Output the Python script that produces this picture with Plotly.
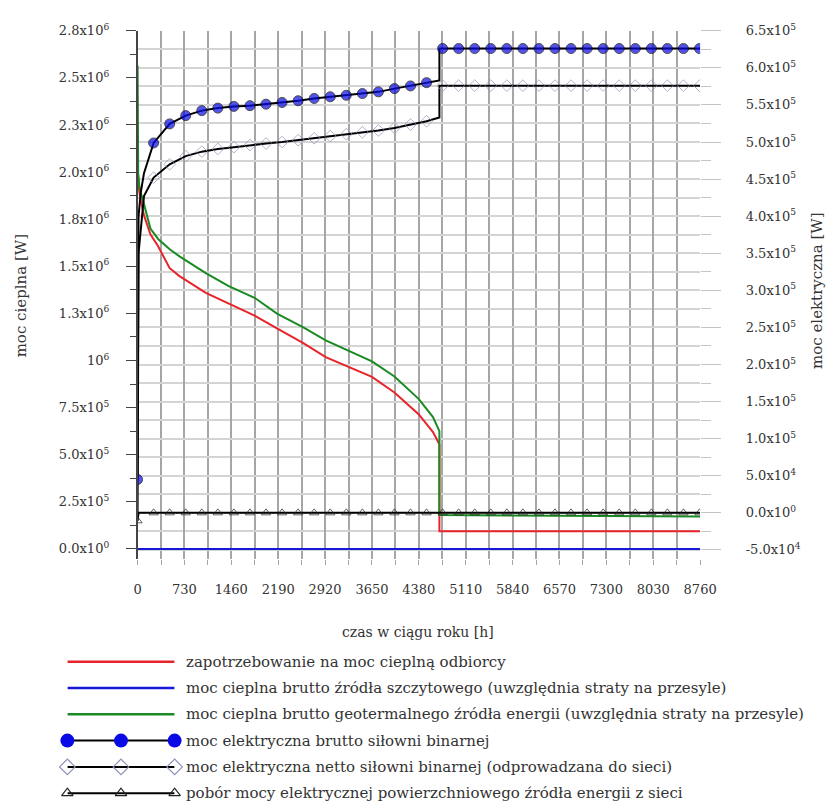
import plotly.graph_objects as go

W, H = 839, 810

# ---------------- data ----------------
# heat power (left axis, W)
heat_t = [0, 10, 25, 50, 100, 200, 320, 500, 653, 1063, 1412, 1822, 2171, 2581, 2930,
          3300, 3650, 4000, 4380, 4600, 4700, 4700, 8760]
heat_demand = [2030000, 1960000, 1900000, 1850000, 1770000, 1670000, 1606000, 1490000,
               1448000, 1359000, 1302000, 1238000, 1170000, 1092000, 1018000, 965000,
               913000, 830000, 714000, 620000, 556000, 94000, 94000]
heat_geo = [2566000, 1990000, 1930000, 1890000, 1830000, 1700000, 1645000, 1590000,
            1553000, 1464000, 1396000, 1333000, 1249000, 1176000, 1107000, 1050000,
            995000, 915000, 795000, 700000, 625000, 180000, 172000]
peak_t = [0, 8760]
heat_peak = [0, 0]

# electric power (right axis, W)
gross_t = [0, 15, 50, 100, 250, 500, 750, 1000, 1250, 1500, 1750, 2000, 2250, 2500, 2750,
           3000, 3250, 3500, 3750, 4000, 4250, 4500, 4700, 4700, 4750, 5000, 5250, 5500,
           5750, 6000, 6250, 6500, 6750, 7000, 7250, 7500, 7750, 8000, 8250, 8500, 8750, 8760]
gross = [45000, 400000, 432000, 458000, 498700, 524400, 535600, 542300, 545700, 548000,
         549000, 551000, 553300, 555600, 558700, 561000, 563000, 565300, 567600, 572000,
         575600, 580000, 583000, 626000, 626000, 626000, 626000, 626000, 626000, 626000,
         626000, 626000, 626000, 626000, 626000, 626000, 626000, 626000, 626000, 626000,
         626000, 626000]

net_t = [0, 15, 100, 250, 500, 750, 1000, 1250, 1500, 1750, 2000, 2250, 2500, 2750, 3000,
         3250, 3500, 3750, 4000, 4250, 4500, 4700, 4700, 4750, 5000, 5250, 5500, 5750, 6000,
         6250, 6500, 6750, 7000, 7250, 7500, 7750, 8000, 8250, 8500, 8750, 8760]
net = [0, 350000, 427000, 452000, 470000, 481000, 487000, 490700, 493000, 496000, 498000,
       500000, 502500, 505000, 508000, 510500, 513000, 515500, 519000, 523500, 528000,
       533000, 576000, 576000, 576000, 576000, 576000, 576000, 576000, 576000, 576000,
       576000, 576000, 576000, 576000, 576000, 576000, 576000, 576000, 576000, 576000]

pobor_t = [0, 15, 250, 500, 750, 1000, 1250, 1500, 1750, 2000, 2250, 2500, 2750, 3000,
           3250, 3500, 3750, 4000, 4250, 4500, 4750, 5000, 5250, 5500, 5750, 6000, 6250,
           6500, 6750, 7000, 7250, 7500, 7750, 8000, 8250, 8500, 8750, 8760]
pobor = [-10700, 0, 0, 0, 0, 0, 0, 0, 0, 0, 0, 0, 0, 0, 0, 0, 0, 0, 0, 0, 0, 0, 0, 0, 0,
         0, 0, 0, 0, 0, 0, 0, 0, 0, 0, 0, 0, 0]

x_ticks = [0, 730, 1460, 2190, 2920, 3650, 4380, 5110, 5840, 6570, 7300, 8030, 8760]
left_ticks = [0, 250000, 500000, 750000, 1000000, 1250000, 1500000, 1750000, 2000000,
              2250000, 2500000, 2750000]
left_labels = ["0.0x10<sup>0</sup>", "2.5x10<sup>5</sup>", "5.0x10<sup>5</sup>",
               "7.5x10<sup>5</sup>", "10<sup>6</sup>", "1.3x10<sup>6</sup>",
               "1.5x10<sup>6</sup>", "1.8x10<sup>6</sup>", "2.0x10<sup>6</sup>",
               "2.3x10<sup>6</sup>", "2.5x10<sup>6</sup>", "2.8x10<sup>6</sup>"]
left_minor = [125000, 375000, 625000, 875000, 1125000, 1375000, 1625000, 1875000,
              2125000, 2375000, 2625000]
right_ticks = [-50000, 0, 50000, 100000, 150000, 200000, 250000, 300000, 350000, 400000,
               450000, 500000, 550000, 600000, 650000]
right_labels = ["-5.0x10<sup>4</sup>", "0.0x10<sup>0</sup>", "5.0x10<sup>4</sup>",
                "1.0x10<sup>5</sup>", "1.5x10<sup>5</sup>", "2.0x10<sup>5</sup>",
                "2.5x10<sup>5</sup>", "3.0x10<sup>5</sup>", "3.5x10<sup>5</sup>",
                "4.0x10<sup>5</sup>", "4.5x10<sup>5</sup>", "5.0x10<sup>5</sup>",
                "5.5x10<sup>5</sup>", "6.0x10<sup>5</sup>", "6.5x10<sup>5</sup>"]

legend_names = [
    "zapotrzebowanie na moc cieplną odbiorcy",
    "moc cieplna brutto źródła szczytowego (uwzględnia straty na przesyle)",
    "moc cieplna brutto geotermalnego źródła energii (uwzględnia straty na przesyle)",
    "moc elektryczna brutto siłowni binarnej",
    "moc elektryczna netto siłowni binarnej (odprowadzana do sieci)",
    "pobór mocy elektrycznej powierzchniowego źródła energii z sieci",
]

RED = "#e8242a"
BLUE = "#1818d8"
GREEN = "#1a8a22"
DOT = "#0a0ae6"
DIAM = "#8c92b8"
FONT = "DejaVu Serif"
TXT = "#333"

fig = go.Figure()

# heat traces (left axis)
fig.add_trace(go.Scatter(x=peak_t, y=heat_peak, mode="lines", line=dict(color=BLUE, width=2),
                         xaxis="x", yaxis="y", name=legend_names[1]))
fig.add_trace(go.Scatter(x=heat_t, y=heat_demand, mode="lines", line=dict(color=RED, width=2),
                         xaxis="x", yaxis="y", name=legend_names[0]))
fig.add_trace(go.Scatter(x=heat_t, y=heat_geo, mode="lines", line=dict(color=GREEN, width=2),
                         xaxis="x", yaxis="y", name=legend_names[2]))

# electric traces (right axis)
pobor_sizes = [8 if t % 250 == 0 else 0 for t in pobor_t]
net_sizes = [9 if (t % 250 == 0 and t > 0) else 0 for t in net_t]
gross_sizes = [10 if t % 250 == 0 else 0 for t in gross_t]

fig.add_trace(go.Scatter(x=pobor_t, y=pobor, mode="lines+markers",
                         line=dict(color="black", width=2),
                         marker=dict(symbol="triangle-up-open", size=pobor_sizes, color="#222",
                                     line=dict(width=1)),
                         xaxis="x", yaxis="y2", name=legend_names[5]))
fig.add_trace(go.Scatter(x=net_t, y=net, mode="lines+markers",
                         line=dict(color="black", width=2),
                         marker=dict(symbol="diamond-open", size=net_sizes, color=DIAM,
                                     line=dict(width=1)),
                         xaxis="x", yaxis="y2", name=legend_names[4]))
fig.add_trace(go.Scatter(x=gross_t, y=gross, mode="lines+markers",
                         line=dict(color="black", width=2),
                         marker=dict(symbol="circle", size=gross_sizes, color=DOT),
                         xaxis="x", yaxis="y2", name=legend_names[3]))

# custom legend samples (own helper axes below the chart)
sample_x = [0, 1, 2]
legend_styles = [
    dict(mode="lines", line=dict(color=RED, width=2.5)),
    dict(mode="lines", line=dict(color=BLUE, width=2.5)),
    dict(mode="lines", line=dict(color=GREEN, width=2.5)),
    dict(mode="lines+markers", line=dict(color="black", width=2),
         marker=dict(symbol="circle", size=14, color=DOT)),
    dict(mode="lines+markers", line=dict(color="black", width=2),
         marker=dict(symbol="diamond-open", size=12, color=DIAM, line=dict(width=1.2))),
    dict(mode="lines+markers", line=dict(color="black", width=2),
         marker=dict(symbol="triangle-up-open", size=10, color="#222", line=dict(width=1.2))),
]
for i, st in enumerate(legend_styles):
    fig.add_trace(go.Scatter(x=sample_x, y=[i] * len(sample_x), xaxis="x3", yaxis="y3",
                             cliponaxis=False, hoverinfo="skip", **st))

annotations = []
for i, name in enumerate(legend_names):
    annotations.append(dict(text=name, xref="paper", x=185 / W, yref="y3", y=i,
                            xanchor="left", yanchor="middle", showarrow=False,
                            font=dict(family=FONT, size=15, color=TXT)))

annotations += [
    dict(text="moc cieplna [W]", xref="paper", yref="paper", x=17 / W, y=1 - 290 / H,
         xanchor="center", yanchor="middle", textangle=-90, showarrow=False,
         font=dict(family=FONT, size=15, color=TXT)),
    dict(text="moc elektryczna [W]", xref="paper", yref="paper", x=834 / W, y=1 - 285 / H,
         xanchor="center", yanchor="middle", textangle=-90, showarrow=False,
         font=dict(family=FONT, size=15, color=TXT)),
    dict(text="czas w ciągu roku [h]", xref="paper", yref="paper", x=425 / W, y=1 - 630 / H,
         xanchor="center", yanchor="middle", showarrow=False,
         font=dict(family=FONT, size=14, color=TXT)),
]

VGRID = "#a6a6a6"
HGRID = "#d4d4d4"

fig.update_layout(
    width=W, height=H,
    margin=dict(l=0, r=0, t=0, b=0),
    showlegend=False,
    plot_bgcolor="white", paper_bgcolor="white",
    font=dict(family=FONT, size=13, color=TXT),
    xaxis=dict(domain=[137 / W, 714 / W], range=[0, 8760], anchor="y",
               tickmode="array", tickvals=x_ticks, ticktext=[str(v) for v in x_ticks],
               showgrid=True, gridcolor=VGRID, gridwidth=1.5,
               ticks="outside", ticklen=5, tickcolor=VGRID,
               minor=dict(tickmode="linear", tick0=0, dtick=365, showgrid=True,
                          gridcolor=VGRID, gridwidth=1.5, ticks="outside", ticklen=5,
                          tickcolor=VGRID),
               showline=False, zeroline=False, ticklabelstandoff=14),
    yaxis=dict(domain=[1 - 556 / H, 1 - 22 / H], range=[-52480, 2750000], anchor="x",
               tickmode="array", tickvals=left_ticks, ticktext=left_labels,
               showgrid=False, zeroline=False, showline=True, linecolor="#444", linewidth=1.5,
               ticks="outside", ticklen=10, tickcolor="#444", tickwidth=1.2,
               minor=dict(tickmode="array", tickvals=left_minor, ticks="outside", ticklen=6,
                          tickcolor="#444", showgrid=False),
               ticklabelstandoff=14),
    yaxis2=dict(overlaying="y", side="right", anchor="x", range=[-62000, 650000],
                tickmode="array", tickvals=right_ticks, ticktext=right_labels,
                showgrid=True, gridcolor=HGRID, gridwidth=1.5,
                ticks="outside", ticklen=20, tickcolor="#c4c4c4",
                minor=dict(tickmode="linear", tick0=0, dtick=25000, showgrid=True,
                           gridcolor=HGRID, gridwidth=1.5, ticks="outside", ticklen=10,
                           tickcolor="#c4c4c4"),
                zeroline=False, showline=False, ticklabelstandoff=22),
    xaxis3=dict(domain=[65 / W, 175 / W], range=[0, 2], anchor="y3", visible=False,
                fixedrange=True),
    yaxis3=dict(domain=[1 - 806 / H, 1 - 647 / H], range=[5.489, -0.489], anchor="x3",
                visible=False, fixedrange=True),
    annotations=annotations,
)

fig.write_html("out.html")
